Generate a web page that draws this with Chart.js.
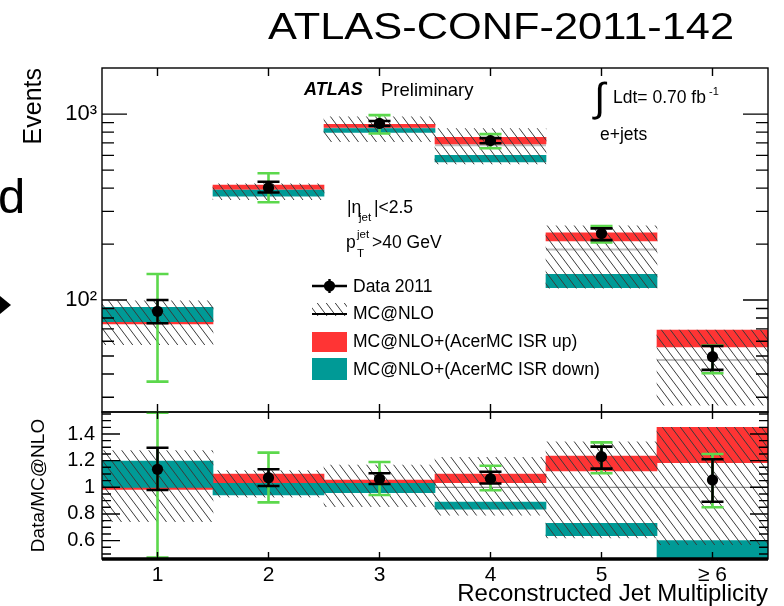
<!DOCTYPE html>
<html>
<head>
<meta charset="utf-8">
<script src="https://cdn.jsdelivr.net/npm/chart.js@4.4.1/dist/chart.umd.min.js"></script>
<style>
  html, body { margin: 0; padding: 0; background: #fff; }
  #wrap { position: relative; width: 784px; height: 606px; overflow: hidden; }
  #wrap canvas { position: absolute; left: 0; top: 0; }
</style>
</head>
<body>
<div id="wrap">
  <canvas id="main" width="784" height="606"></canvas>
  <canvas id="ratio" width="784" height="606"></canvas>
</div>
<script>
// ---- jet multiplicity bins ----
const binCentres = [1, 2, 3, 4, 5, 6];
const binLabels = ['1', '2', '3', '4', '5', '\u2265 6'];

// ---- events per bin (upper panel) ----
const data2011   = [87, 402, 891, 720, 228, 49.6];
const dataStatLo = [75, 379, 864, 697, 210, 42.1];
const dataStatHi = [100, 433, 919, 743, 243, 56.6];
const dataTotLo  = [36.4, 336, 787, 655, 204, 40.4];
const dataTotHi  = [138, 481, 988, 780, 250, 57];
const mcnloCentral = [77.7, 375, 839, 681, 187, 47.6];
const mcnloLo    = [57.5, 347, 711, 540, 116, 27.2];
const mcnloHi    = [99, 422, 968, 837, 251, 69];
const isrUpLo    = [74.5, 393, 848, 692, 208, 56];
const isrUpHi    = [77.5, 415, 880, 750, 230, 69];
const isrDownLo  = [76.5, 362, 797, 554, 116.5, null];
const isrDownHi  = [91.5, 390, 837, 600, 137.4, null];

// ---- Data / MC@NLO (lower panel) ----
const ratioData    = [1.135, 1.072, 1.062, 1.065, 1.23, 1.055];
const ratioStatLo  = [0.98, 1.01, 1.025, 1.028, 1.14, 0.892];
const ratioStatHi  = [1.297, 1.135, 1.105, 1.117, 1.305, 1.21];
const ratioTotLo   = [0.472, 0.887, 0.942, 0.978, 1.105, 0.85];
const ratioTotHi   = [1.56, 1.26, 1.19, 1.162, 1.337, 1.25];
const ratioMcnlo   = [1, 1, 1, 1, 1, 1];
const ratioMcnloLo = [0.742, 0.925, 0.855, 0.79, 0.62, 0.57];
const ratioMcnloHi = [1.275, 1.125, 1.167, 1.225, 1.342, 1.45];
const ratioUpLo    = [0.985, 1.03, 1.03, 1.035, 1.122, 1.185];
const ratioUpHi    = [1.0, 1.10, 1.055, 1.10, 1.235, 1.45];
const ratioDownLo  = [1.0, 0.942, 0.96, 0.835, 0.637, 0.462];
const ratioDownHi  = [1.197, 1.03, 1.03, 0.89, 0.73, 0.60];

// ---- axis ticks ----
const eventTicks = [100, 1000];
const eventMinorTicks = [30, 40, 50, 60, 70, 80, 90, 200, 300, 400, 500, 600, 700, 800, 900];
const ratioTicks = [0.6, 0.8, 1.0, 1.2, 1.4];
const ratioMinorTicks = [0.5, 0.55, 0.65, 0.7, 0.75, 0.85, 0.9, 0.95, 1.05, 1.1, 1.15, 1.25, 1.3, 1.35, 1.45, 1.5, 1.55];

const FONT = "'Liberation Sans', Arial, Helvetica, sans-serif";
const RED = '#ff3434';
const TEAL = '#009a96';
const GREEN = '#5cd84c';

Chart.defaults.font.family = FONT;
Chart.defaults.color = '#000';

// diagonal "\\\\" fill used for the MC@NLO uncertainty
function makeHatch(ctx) {
  const w = 9, h = 12;
  const c = document.createElement('canvas');
  c.width = w; c.height = h;
  const g = c.getContext('2d');
  g.strokeStyle = '#3a3a3a';
  g.lineWidth = 1;
  for (let k = -1; k <= 1; k++) {
    g.beginPath();
    g.moveTo(k * w, 0);
    g.lineTo(k * w + w, h);
    g.stroke();
  }
  return ctx.createPattern(c, 'repeat');
}

const mainCanvas = document.getElementById('main');
const ratioCanvas = document.getElementById('ratio');
const hatchMain = makeHatch(mainCanvas.getContext('2d'));
const hatchRatio = makeHatch(ratioCanvas.getContext('2d'));

// floating bar per bin, [low, high]
function band(lo, hi) {
  return binCentres
    .map((x, i) => (lo[i] == null ? null : { x: x, y: [lo[i], hi[i]] }))
    .filter(Boolean);
}
// horizontal segment across each bin, broken between bins
function binLines(vals) {
  const pts = [];
  binCentres.forEach((x, i) => {
    pts.push({ x: x - 0.5, y: vals[i] }, { x: x + 0.5, y: vals[i] }, { x: x + 0.5, y: null });
  });
  return pts;
}

// data points with stat (black) and total (green) error bars
function makeErrorBars(id, s) {
  return {
    id: id,
    afterDatasetsDraw(chart) {
      const { ctx, scales: { x, y } } = chart;
      const cap = 11;
      const drawBars = (lo, hi, colour) => {
        ctx.strokeStyle = colour;
        ctx.lineWidth = 2.6;
        ctx.beginPath();
        binCentres.forEach((b, i) => {
          const px = x.getPixelForValue(b);
          const y1 = y.getPixelForValue(lo[i]);
          const y2 = y.getPixelForValue(hi[i]);
          ctx.moveTo(px, y1); ctx.lineTo(px, y2);
          ctx.moveTo(px - cap, y1); ctx.lineTo(px + cap, y1);
          ctx.moveTo(px - cap, y2); ctx.lineTo(px + cap, y2);
        });
        ctx.stroke();
      };
      ctx.save();
      drawBars(s.totLo, s.totHi, GREEN);
      drawBars(s.statLo, s.statHi, '#000');
      ctx.fillStyle = '#000';
      binCentres.forEach((b, i) => {
        ctx.beginPath();
        ctx.arc(x.getPixelForValue(b), y.getPixelForValue(s.value[i]), 5.6, 0, Math.PI * 2);
        ctx.fill();
      });
      ctx.restore();
    }
  };
}

// pad frame with inward ticks on all four sides
function makeFrame(id, cfg) {
  return {
    id: id,
    afterDraw(chart) {
      const { ctx, chartArea: a, scales: { x, y } } = chart;
      ctx.save();
      ctx.strokeStyle = '#000';
      ctx.lineWidth = 1.4;
      ctx.strokeRect(a.left, a.top, a.right - a.left, a.bottom - a.top);
      ctx.beginPath();
      binCentres.forEach(b => {
        const px = x.getPixelForValue(b);
        ctx.moveTo(px, a.top); ctx.lineTo(px, a.top + cfg.xLen);
        ctx.moveTo(px, a.bottom); ctx.lineTo(px, a.bottom - cfg.xLen);
      });
      const yTick = (v, len) => {
        const py = y.getPixelForValue(v);
        ctx.moveTo(a.left, py); ctx.lineTo(a.left + len, py);
        ctx.moveTo(a.right, py); ctx.lineTo(a.right - len, py);
      };
      cfg.major.forEach(v => yTick(v, cfg.majLen));
      cfg.minor.forEach(v => yTick(v, cfg.minLen));
      ctx.stroke();
      if (cfg.bottomWidth) {
        ctx.lineWidth = cfg.bottomWidth;
        ctx.beginPath();
        ctx.moveTo(a.left, a.bottom); ctx.lineTo(a.right, a.bottom);
        ctx.stroke();
      }
      ctx.restore();
    }
  };
}

function stretched(ctx, text, x, y, font, sx) {
  ctx.save();
  ctx.font = font;
  ctx.translate(x, y);
  ctx.scale(sx, 1);
  ctx.fillText(text, 0, 0);
  ctx.restore();
}

// labels, legend and the slide heading around the plot
const annotations = {
  id: 'annotations',
  afterDraw(chart) {
    const ctx = chart.ctx;
    ctx.save();
    ctx.fillStyle = '#000';
    ctx.textAlign = 'left';
    ctx.textBaseline = 'alphabetic';

    stretched(ctx, 'ATLAS-CONF-2011-142', 268, 39, `36px ${FONT}`, 1.205);
    ctx.font = `49px ${FONT}`;
    ctx.fillText('d', -2, 213);
    ctx.beginPath();
    ctx.moveTo(0, 296); ctx.lineTo(11, 305); ctx.lineTo(0, 314); ctx.closePath();
    ctx.fill();

    ctx.font = `italic bold 18px ${FONT}`;
    ctx.fillText('ATLAS', 304, 95);
    ctx.font = `18.5px ${FONT}`;
    ctx.fillText('Preliminary', 381, 96);

    ctx.font = `40px ${FONT}`;
    ctx.fillText('\u222B', 594, 111);
    ctx.font = `17.5px ${FONT}`;
    ctx.fillText('Ldt= 0.70 fb', 613, 103);
    ctx.font = `11px ${FONT}`;
    ctx.fillText('-1', 709, 95);
    ctx.font = `17.5px ${FONT}`;
    ctx.fillText('e+jets', 600, 140);

    ctx.font = `17.5px ${FONT}`;
    ctx.fillText('|\u03B7', 347, 213);
    ctx.font = `11.5px ${FONT}`;
    ctx.fillText('jet', 359, 221);
    ctx.font = `17.5px ${FONT}`;
    ctx.fillText('|<2.5', 374, 213);

    ctx.fillText('p', 346, 248);
    ctx.font = `11.5px ${FONT}`;
    ctx.fillText('jet', 357, 238);
    ctx.fillText('T', 357, 257);
    ctx.font = `17.5px ${FONT}`;
    ctx.fillText('>40 GeV', 372, 248);

    // legend
    const lx0 = 312, lx1 = 347;
    ctx.strokeStyle = '#000';
    ctx.lineWidth = 2.4;
    ctx.beginPath();
    ctx.moveTo(lx0, 286); ctx.lineTo(lx1, 286);
    ctx.moveTo(329.5, 279); ctx.lineTo(329.5, 293);
    ctx.stroke();
    ctx.beginPath();
    ctx.arc(329.5, 286, 5.6, 0, Math.PI * 2);
    ctx.fill();

    ctx.fillStyle = hatchMain;
    ctx.fillRect(lx0, 303, lx1 - lx0, 13);
    ctx.lineWidth = 2;
    ctx.beginPath();
    ctx.moveTo(lx0, 314); ctx.lineTo(lx1, 314);
    ctx.stroke();

    ctx.fillStyle = RED;
    ctx.fillRect(lx0, 332, lx1 - lx0, 20);
    ctx.fillStyle = TEAL;
    ctx.fillRect(lx0, 358, lx1 - lx0, 22);

    ctx.fillStyle = '#000';
    ctx.font = `17.5px ${FONT}`;
    ctx.fillText('Data 2011', 353, 292);
    ctx.fillText('MC@NLO', 353, 318.5);
    ctx.fillText('MC@NLO+(AcerMC ISR up)', 353, 347);
    ctx.fillText('MC@NLO+(AcerMC ISR down)', 353, 374.5);
    ctx.restore();
  }
};

const common = {
  responsive: false,
  animation: false,
  devicePixelRatio: 1,
  events: [],
  datasets: { bar: { grouped: false, barPercentage: 1, categoryPercentage: 1, borderWidth: 0 } }
};

new Chart(mainCanvas, {
  type: 'bar',
  data: {
    datasets: [
      { type: 'line', label: 'MC@NLO', data: binLines(mcnloCentral), borderColor: '#bdbdbd', borderWidth: 2,
        pointRadius: 0, spanGaps: false, order: 5 },
      { label: 'MC@NLO+(AcerMC ISR up)', data: band(isrUpLo, isrUpHi), backgroundColor: RED, order: 4 },
      { label: 'MC@NLO+(AcerMC ISR down)', data: band(isrDownLo, isrDownHi), backgroundColor: TEAL, order: 3 },
      { label: 'MC@NLO uncertainty', data: band(mcnloLo, mcnloHi), backgroundColor: hatchMain, order: 2 }
    ]
  },
  options: Object.assign({}, common, {
    layout: { padding: { left: 0, top: 68, right: 16, bottom: 194 } },
    plugins: { legend: { display: false }, tooltip: { enabled: false } },
    scales: {
      x: {
        type: 'linear', min: 0.5, max: 6.5, offset: false,
        grid: { display: false, offset: false }, border: { display: false },
        ticks: { display: false },
        afterBuildTicks: s => { s.ticks = binCentres.map(v => ({ value: v })); },
        afterFit: s => { s.height = 0; }
      },
      y: {
        type: 'logarithmic', min: 25, max: 1770,
        grid: { display: false, drawTicks: false }, border: { display: false },
        ticks: {
          font: { size: 22 }, padding: 5, autoSkip: false,
          callback: v => (v === 100 ? '10\u00B2' : v === 1000 ? '10\u00B3' : '')
        },
        title: { display: true, text: 'Events', align: 'end', font: { size: 25 }, padding: { top: 19, bottom: 0 } },
        afterBuildTicks: s => { s.ticks = eventTicks.map(v => ({ value: v })); },
        afterFit: s => { s.width = 102; }
      }
    }
  }),
  plugins: [
    makeErrorBars('mainErrors', { value: data2011, statLo: dataStatLo, statHi: dataStatHi, totLo: dataTotLo, totHi: dataTotHi }),
    makeFrame('mainFrame', { xLen: 8, major: eventTicks, minor: eventMinorTicks, majLen: 25, minLen: 12 }),
    annotations
  ]
});

new Chart(ratioCanvas, {
  type: 'bar',
  data: {
    datasets: [
      { type: 'line', label: 'MC@NLO', data: binLines(ratioMcnlo), borderColor: '#8f8f8f', borderWidth: 1.3,
        pointRadius: 0, spanGaps: false, order: 5 },
      { label: 'ISR up', data: band(ratioUpLo, ratioUpHi), backgroundColor: RED, order: 4 },
      { label: 'ISR down', data: band(ratioDownLo, ratioDownHi), backgroundColor: TEAL, order: 3 },
      { label: 'MC@NLO uncertainty', data: band(ratioMcnloLo, ratioMcnloHi), backgroundColor: hatchRatio, order: 2 }
    ]
  },
  options: Object.assign({}, common, {
    layout: { padding: { left: 0, top: 412, right: 16, bottom: 0 } },
    plugins: { legend: { display: false }, tooltip: { enabled: false } },
    scales: {
      x: {
        type: 'linear', min: 0.5, max: 6.5, offset: false,
        grid: { display: false, drawTicks: false, offset: false }, border: { display: false },
        ticks: {
          font: { size: 21 }, padding: 4, maxRotation: 0, autoSkip: false,
          callback: v => binLabels[binCentres.indexOf(v)]
        },
        title: { display: true, text: 'Reconstructed Jet Multiplicity', align: 'end',
                 font: { size: 24, lineHeight: 1 }, padding: { top: 0, bottom: 0 } },
        afterBuildTicks: s => { s.ticks = binCentres.map(v => ({ value: v })); },
        afterFit: s => { s.height = 47; }
      },
      y: {
        type: 'linear', min: 0.462, max: 1.565,
        grid: { display: false, drawTicks: false }, border: { display: false },
        ticks: {
          font: { size: 20 }, padding: 7, autoSkip: false,
          callback: v => String(Math.round(v * 10) / 10)
        },
        title: { display: true, text: 'Data/MC@NLO', align: 'center', font: { size: 19 }, padding: { top: 27, bottom: 0 } },
        afterBuildTicks: s => { s.ticks = ratioTicks.map(v => ({ value: v })); },
        afterFit: s => { s.width = 102; }
      }
    }
  }),
  plugins: [
    makeErrorBars('ratioErrors', { value: ratioData, statLo: ratioStatLo, statHi: ratioStatHi, totLo: ratioTotLo, totHi: ratioTotHi }),
    makeFrame('ratioFrame', { xLen: 7, major: ratioTicks, minor: ratioMinorTicks, majLen: 18, minLen: 9, bottomWidth: 3.5 })
  ]
});
</script>
</body>
</html>
